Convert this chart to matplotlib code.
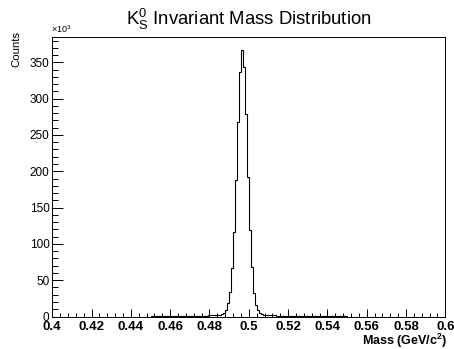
import numpy as np
import matplotlib
matplotlib.use("Agg")
import matplotlib.pyplot as plt
from matplotlib.ticker import MultipleLocator

plt.rcParams['font.family'] = ['Liberation Sans', 'DejaVu Sans']
plt.rcParams['mathtext.fontset'] = 'custom'
plt.rcParams['mathtext.rm'] = 'Liberation Sans'
plt.rcParams['mathtext.it'] = 'Liberation Sans:italic'
plt.rcParams['mathtext.bf'] = 'Liberation Sans:bold'

# histogram: 100 bins of 1 MeV from 0.450 to 0.550 GeV, counts in units of 10^3
bin_lo = 0.450
bin_hi = 0.550
counts_k = [
    0.6, 0.6, 0.6, 0.7, 0.6, 0.7, 0.7, 0.7, 0.7, 0.8,
    0.8, 0.8, 0.8, 0.9, 0.9, 0.9, 0.9, 1.0, 1.0, 1.0,
    1.0, 1.1, 1.1, 1.1, 1.2, 1.2, 1.2, 1.3, 1.3, 1.4,
    1.4, 1.5, 1.6, 1.8, 2.0, 2.3, 2.8,
    4.4, 9.0, 18.2, 34.1, 66.4, 116.8, 188.0, 268.2, 336.2, 366.9,
    343.1, 278.8, 192.0, 119.0, 68.6, 32.4, 15.8, 9.0, 4.4, 2.9, 2.3, 2.0, 1.8,
    1.6, 1.5, 1.4, 1.4, 1.3, 1.3, 1.2, 1.2, 1.1, 1.1,
    1.1, 1.0, 1.0, 1.0, 1.0, 0.9, 0.9, 0.9, 0.9, 0.8,
    0.8, 0.8, 0.8, 0.8, 0.7, 0.7, 0.7, 0.7, 0.7, 0.7,
    0.7, 0.6, 0.6, 0.6, 0.6, 0.6, 0.6, 0.6, 0.6, 0.6,
]
x_ticks = [0.4, 0.42, 0.44, 0.46, 0.48, 0.5, 0.52, 0.54, 0.56, 0.58, 0.6]
x_tick_labels = ['0.4', '0.42', '0.44', '0.46', '0.48', '0.5', '0.52', '0.54', '0.56', '0.58', '0.6']
y_ticks = [0, 50, 100, 150, 200, 250, 300, 350]

edges = np.linspace(bin_lo, bin_hi, len(counts_k) + 1)

fig = plt.figure(figsize=(4.54, 3.49), dpi=100)
ax = fig.add_axes([0.1152, 0.0931, 0.8656, 0.8023])

ax.stairs(counts_k, edges, color='black', linewidth=0.8)

ax.set_xlim(0.4, 0.6)
ax.set_ylim(0, 385.5)

ax.set_xticks(x_ticks)
ax.set_xticklabels(x_tick_labels, fontsize=9.5, fontweight='bold')
ax.xaxis.set_minor_locator(MultipleLocator(0.004))
ax.set_yticks(y_ticks)
ax.set_yticklabels([str(v) for v in y_ticks], fontsize=8.5)
ax.yaxis.set_minor_locator(MultipleLocator(10))

ax.tick_params(axis='both', which='both', direction='in', top=False, right=False, width=0.7)
ax.tick_params(axis='x', which='major', length=5.8, pad=3)
ax.tick_params(axis='x', which='minor', length=2.9)
ax.tick_params(axis='y', which='major', length=7.9, pad=2)
ax.tick_params(axis='y', which='minor', length=4)

for sp in ax.spines.values():
    sp.set_linewidth(0.7)

fig.text(0.549, 0.928, r'$\mathrm{K^{0}_{S}}$ Invariant Mass Distribution',
         ha='center', va='baseline', fontsize=13.3)
fig.text(0.113, 0.905, r'$\times$10$^{3}$', ha='left', va='baseline', fontsize=6.5)
fig.text(0.035, 0.911, 'Counts', rotation=90, ha='center', va='top', fontsize=8.2)
fig.text(0.985, 0.012, r'Mass (GeV/c$^{\mathbf{2}}$)', ha='right', va='baseline',
         fontsize=9, fontweight='bold')

fig.savefig('out.png', dpi=100)
